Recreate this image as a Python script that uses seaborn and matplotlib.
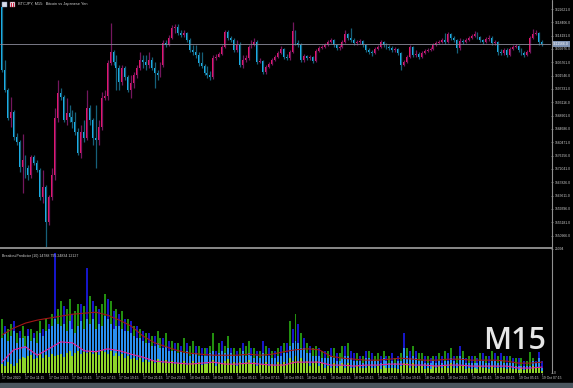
import numpy as np
import pandas as pd
import matplotlib
matplotlib.use("Agg")
import matplotlib.pyplot as plt
import matplotlib.transforms as mtransforms
import seaborn as sns
from matplotlib.patches import Rectangle
from matplotlib.lines import Line2D

# ---------------- data: prices in thousand JPY ----------------
open0_k = 1623.3
close_k = [
    1603.3, 1597.0, 1588.2, 1590.1, 1582.2, 1580.6, 1572.7, 1574.9, 1572.4, 1570.1,
    1575.8, 1573.9, 1571.7, 1563.2, 1566.3, 1555.3, 1563.2, 1570.1, 1588.2, 1596.1,
    1594.8, 1587.5, 1589.7, 1588.5, 1586.9, 1583.7, 1577.1, 1583.7, 1581.8, 1591.3,
    1587.5, 1581.8, 1581.2, 1585.3, 1594.5, 1595.1, 1605.6, 1609.0, 1605.9, 1604.0,
    1599.5, 1604.0, 1601.1, 1597.0, 1599.2, 1601.8, 1604.0, 1606.5, 1605.9, 1604.9,
    1606.5, 1604.0, 1602.4, 1601.8, 1604.9, 1611.9, 1611.2, 1613.5, 1616.6, 1616.9,
    1615.0, 1614.4, 1615.0, 1612.8, 1609.7, 1609.0, 1608.1, 1605.6,
    1604.6, 1602.4, 1601.8, 1601.1, 1607.1, 1607.5, 1608.4, 1610.6, 1615.4, 1613.5,
    1612.8, 1609.7, 1611.2, 1604.9, 1606.5, 1607.1, 1610.6, 1611.2, 1612.2, 1605.9,
    1606.2, 1602.7, 1604.3, 1605.2, 1606.5, 1607.5, 1608.7, 1610.0, 1607.5, 1607.1,
    1609.0, 1615.7, 1611.9, 1611.2, 1606.5, 1607.8, 1607.1, 1607.5, 1606.2, 1609.3,
    1610.3, 1610.6, 1611.2, 1612.2, 1612.8, 1611.2, 1610.3, 1610.6, 1612.2, 1614.7,
    1613.5, 1612.8, 1611.9, 1612.2, 1612.5, 1611.2, 1609.7, 1609.0, 1608.7, 1610.0,
    1610.6, 1612.2, 1611.2, 1610.6, 1610.3, 1609.7, 1610.0, 1608.7, 1604.9, 1605.9,
    1607.5, 1610.6, 1608.1, 1608.4, 1607.5, 1608.7, 1609.3, 1609.7, 1610.0, 1611.2,
    1611.9, 1612.2, 1612.8, 1612.2, 1614.7, 1613.5, 1612.8, 1610.3, 1612.5, 1612.2,
    1612.8, 1613.5, 1614.1, 1614.7, 1613.8, 1612.8, 1612.2, 1613.1, 1613.5, 1611.9,
    1612.2, 1609.0,
    1608.7, 1609.7, 1608.1, 1610.0, 1610.6, 1610.9, 1609.7, 1608.7, 1608.1, 1609.0,
    1613.5, 1614.7, 1615.0, 1612.2, 1611.6,
]
high_k = [
    1624.8, 1606.5, 1597.6, 1594.8, 1590.7, 1583.4, 1581.2, 1583.1, 1576.5, 1573.3,
    1576.5, 1576.5, 1574.9, 1572.4, 1571.7, 1567.0, 1563.8, 1572.4, 1591.3, 1600.2,
    1597.6, 1595.4, 1594.5, 1592.3, 1590.7, 1590.1, 1585.0, 1585.9, 1587.5, 1597.0,
    1592.3, 1588.2, 1592.3, 1587.5, 1596.4, 1597.0, 1606.5, 1618.2, 1609.7, 1608.1,
    1604.9, 1604.9, 1604.6, 1601.8, 1601.8, 1602.7, 1604.9, 1609.0, 1608.1, 1608.1,
    1609.0, 1607.5, 1605.9, 1603.3, 1605.9, 1612.8, 1612.8, 1614.4, 1617.6, 1617.9,
    1618.0, 1616.0, 1616.0, 1615.4, 1613.5, 1611.2, 1611.2, 1609.0,
    1609.0, 1605.2, 1604.6, 1603.0, 1608.1, 1608.4, 1609.0, 1611.2, 1616.0, 1616.0,
    1614.1, 1613.5, 1612.8, 1612.2, 1608.1, 1608.1, 1611.2, 1612.8, 1613.5, 1612.8,
    1607.1, 1606.5, 1604.9, 1605.9, 1607.1, 1608.1, 1609.3, 1610.9, 1610.3, 1608.4,
    1609.7, 1618.5, 1616.0, 1612.8, 1611.9, 1608.4, 1608.1, 1608.1, 1607.8, 1610.0,
    1610.9, 1611.2, 1611.9, 1612.8, 1613.5, 1613.1, 1611.6, 1611.2, 1612.8, 1616.0,
    1615.0, 1616.6, 1613.5, 1612.8, 1613.1, 1612.8, 1611.6, 1610.3, 1609.7, 1610.6,
    1611.2, 1612.8, 1612.5, 1611.9, 1611.2, 1610.9, 1610.6, 1610.3, 1609.0, 1606.5,
    1608.1, 1611.2, 1610.9, 1609.7, 1609.0, 1609.3, 1610.0, 1610.3, 1610.6, 1611.9,
    1612.5, 1612.8, 1613.5, 1615.0, 1615.4, 1615.0, 1614.1, 1613.1, 1613.5, 1613.1,
    1613.5, 1614.1, 1614.7, 1615.7, 1615.4, 1614.1, 1613.1, 1613.8, 1614.4, 1614.1,
    1612.8, 1612.5,
    1610.0, 1610.3, 1610.3, 1610.6, 1611.2, 1611.6, 1611.2, 1610.3, 1609.3, 1609.7,
    1614.1, 1616.3, 1616.0, 1615.4, 1612.8,
]
low_k = [
    1602.7, 1596.4, 1587.5, 1585.3, 1581.2, 1579.6, 1571.1, 1564.4, 1569.2, 1568.6,
    1569.2, 1573.3, 1571.1, 1562.2, 1561.3, 1547.4, 1554.3, 1562.2, 1568.6, 1586.9,
    1593.8, 1586.9, 1585.9, 1586.9, 1585.0, 1582.8, 1576.5, 1575.5, 1580.6, 1581.2,
    1585.9, 1579.6, 1572.4, 1579.6, 1584.4, 1593.8, 1593.8, 1604.9, 1604.9, 1597.0,
    1597.0, 1598.6, 1600.2, 1596.4, 1594.5, 1597.6, 1600.8, 1603.3, 1604.0, 1603.3,
    1604.0, 1603.3, 1597.6, 1600.2, 1601.1, 1604.3, 1610.6, 1610.9, 1613.2, 1615.0,
    1614.4, 1613.8, 1613.8, 1612.2, 1609.0, 1608.1, 1607.1, 1604.6,
    1604.0, 1601.8, 1600.8, 1600.2, 1600.5, 1606.5, 1607.5, 1608.1, 1610.3, 1612.8,
    1612.2, 1609.0, 1609.0, 1604.3, 1604.0, 1605.9, 1606.5, 1610.3, 1610.9, 1605.2,
    1605.6, 1602.1, 1602.1, 1604.0, 1604.9, 1606.2, 1607.1, 1608.4, 1606.8, 1606.5,
    1606.5, 1608.7, 1611.2, 1610.6, 1605.9, 1605.9, 1606.5, 1606.5, 1605.6, 1605.9,
    1609.0, 1610.0, 1610.3, 1610.9, 1611.9, 1610.6, 1609.7, 1609.7, 1610.3, 1611.9,
    1612.8, 1612.2, 1611.2, 1611.2, 1611.6, 1610.6, 1609.0, 1608.4, 1607.8, 1608.4,
    1609.7, 1610.3, 1610.6, 1610.0, 1609.7, 1609.0, 1609.0, 1608.1, 1603.3, 1604.6,
    1605.6, 1607.1, 1607.5, 1607.5, 1606.8, 1607.1, 1608.4, 1609.0, 1609.3, 1609.7,
    1610.9, 1611.6, 1611.9, 1611.6, 1611.9, 1612.8, 1612.2, 1608.7, 1609.7, 1611.6,
    1611.9, 1612.5, 1613.1, 1613.8, 1613.1, 1612.2, 1611.6, 1611.9, 1612.5, 1611.2,
    1611.2, 1608.1,
    1608.1, 1608.1, 1607.5, 1607.8, 1609.7, 1610.3, 1609.0, 1608.1, 1607.5, 1607.8,
    1608.7, 1613.1, 1614.4, 1611.2, 1610.9,
]
price_ticks = [1622621, 1618406, 1614191, 1609976, 1605761, 1601546, 1597331, 1593116,
               1588901, 1584686, 1580471, 1576256, 1572041, 1567826, 1563611, 1559396,
               1555181, 1550966]
current_price = 1611566
time_labels = ["17 Oct 2020", "17 Oct 11:15", "17 Oct 13:15", "17 Oct 15:15", "17 Oct 17:15",
               "17 Oct 19:15", "17 Oct 21:15", "17 Oct 23:15", "18 Oct 01:15", "18 Oct 03:15",
               "18 Oct 05:15", "18 Oct 07:15", "18 Oct 09:15", "18 Oct 11:15", "18 Oct 13:15",
               "18 Oct 15:15", "18 Oct 17:15", "18 Oct 19:15", "18 Oct 21:15", "18 Oct 23:15",
               "19 Oct 01:15", "19 Oct 03:15", "19 Oct 05:15", "19 Oct 07:15"]

# ---------------- indicator data (thousands) ----------------
navy_k = [
    0, 9.5, 0, 0, 10.5, 0, 8.5, 0, 0, 9.0,
    0, 8.0, 0, 0, 9.0, 0, 10.0, 0, 24.3, 0,
    0, 13.5, 0, 0, 12.0, 0, 0, 14.0, 0, 21.3,
    0, 14.5, 0, 13.0, 0, 0, 15.0, 0, 12.5, 0,
    12.0, 0, 11.0, 0, 10.5, 0, 9.5, 0, 8.5, 0,
    8.0, 0, 7.5, 0, 0, 7.0, 0, 6.5, 0, 6.0,
    0, 5.5, 0, 6.0, 0, 0, 5.5, 0, 5.0, 0,
    5.0, 0, 0, 4.5, 0, 6.5, 0, 0, 5.0, 0,
    4.5, 0, 6.0, 0, 0, 5.0, 0, 4.5, 0, 6.5,
    0, 5.0, 0, 4.5, 0, 5.5, 0, 6.0, 0, 9.0,
    0, 10.0, 0, 7.0, 0, 5.5, 0, 0, 5.0, 0,
    4.5, 0, 5.0, 0, 4.0, 0, 0, 5.5, 0, 4.5,
    4.0, 0, 3.5, 0, 4.5, 0, 4.0, 0, 0, 3.5,
    0, 3.5, 0, 4.0, 0, 3.5, 0, 8.0, 0, 4.5,
    0, 4.5, 0, 0, 3.5, 0, 3.0, 0, 3.5, 0,
    3.5, 0, 4.0, 0, 3.5, 0, 5.5, 0, 3.0, 0,
    3.5, 0, 3.0, 0, 4.0, 0, 3.5, 0, 4.0, 0,
    4.0, 0, 3.5, 0, 3.0, 0, 3.0, 0, 2.5, 0,
    0, 0, 2.5, 4.3, 2.5,
]
green_k = [
    11.0, 0, 9.0, 10.0, 0, 8.0, 0, 9.5, 7.5, 0,
    9.0, 0, 8.5, 10.5, 0, 11.0, 0, 12.0, 0, 13.0,
    14.5, 0, 13.0, 15.0, 0, 12.5, 14.0, 0, 13.5, 0,
    15.5, 0, 13.5, 0, 14.0, 16.0, 0, 14.5, 0, 13.0,
    0, 12.5, 0, 11.0, 0, 9.5, 0, 9.0, 0, 8.0,
    0, 7.5, 0, 8.5, 7.0, 0, 8.0, 0, 6.5, 0,
    6.0, 0, 7.0, 0, 5.5, 6.5, 0, 5.5, 0, 5.0,
    0, 5.5, 8.0, 0, 6.0, 0, 5.5, 7.5, 0, 5.0,
    0, 5.0, 0, 5.5, 6.5, 0, 5.0, 0, 4.5, 0,
    5.5, 0, 4.5, 0, 5.0, 0, 6.0, 0, 10.5, 0,
    12.0, 0, 8.0, 0, 6.0, 0, 5.0, 5.5, 0, 4.5,
    0, 4.5, 0, 5.0, 0, 4.0, 5.5, 0, 6.0, 0,
    0, 4.0, 0, 3.5, 0, 4.5, 0, 3.5, 4.0, 0,
    4.5, 0, 3.5, 0, 3.0, 0, 4.0, 0, 5.0, 0,
    5.5, 0, 4.0, 4.0, 0, 3.5, 0, 3.5, 0, 4.0,
    0, 4.5, 0, 5.0, 0, 3.5, 0, 4.5, 0, 3.5,
    0, 3.5, 0, 4.0, 0, 3.5, 0, 4.5, 0, 3.5,
    0, 3.5, 0, 3.5, 0, 3.0, 0, 3.0, 0, 2.5,
    4.3, 3.0, 0, 0, 0,
]
blue_k = [
    7.0, 8.0, 6.5, 7.5, 8.5, 6.0, 7.0, 7.0, 5.5, 7.5,
    6.5, 7.0, 6.0, 8.0, 7.5, 8.5, 9.0, 9.5, 11.0, 10.0,
    9.5, 10.0, 8.5, 10.5, 9.0, 8.0, 9.5, 10.5, 9.0, 11.0,
    10.0, 11.0, 9.0, 10.0, 9.5, 11.5, 11.0, 10.0, 9.0, 9.5,
    9.5, 9.0, 8.5, 8.5, 8.0, 7.5, 7.0, 7.0, 6.5, 6.0,
    6.0, 5.5, 5.5, 6.0, 5.0, 5.0, 5.5, 4.5, 4.5, 4.5,
    4.0, 4.5, 4.0, 4.5, 3.5, 4.0, 4.0, 3.5, 3.5, 3.5,
    3.5, 4.0, 4.5, 3.5, 4.0, 4.5, 4.0, 5.0, 4.0, 3.5,
    3.5, 3.5, 4.5, 3.5, 4.0, 3.5, 3.0, 3.5, 3.0, 4.0,
    3.5, 3.5, 3.0, 3.0, 3.5, 3.5, 4.0, 4.0, 5.5, 6.0,
    6.5, 6.0, 5.0, 5.0, 4.0, 4.0, 3.5, 3.5, 3.5, 3.0,
    3.0, 3.0, 3.5, 3.0, 2.5, 2.5, 3.0, 3.5, 3.5, 3.0,
    2.5, 2.5, 2.5, 2.0, 3.0, 3.0, 2.5, 2.5, 2.5, 2.0,
    3.0, 2.5, 2.0, 2.5, 2.0, 2.5, 2.5, 5.0, 3.5, 3.0,
    3.5, 3.0, 2.5, 2.5, 2.0, 2.0, 2.0, 2.5, 2.0, 2.5,
    2.0, 2.5, 2.5, 3.0, 2.5, 2.0, 3.5, 3.0, 2.0, 2.0,
    2.0, 2.0, 2.0, 2.5, 2.5, 2.0, 2.0, 2.5, 2.5, 2.0,
    2.5, 2.0, 2.0, 2.0, 2.0, 1.5, 1.5, 1.5, 1.5, 1.5,
    1.5, 2.5, 2.0, 3.0, 1.0,
]
lime_k = [
    1.8, 1.5, 2.2, 1.8, 1.5, 2.0, 2.8, 3.2, 3.0, 3.4,
    3.6, 2.8, 3.0, 3.8, 3.0, 3.6, 3.2, 3.8, 3.4, 3.6,
    3.8, 3.2, 4.0, 4.4, 3.5, 4.0, 4.5, 3.8, 4.2, 4.0,
    4.4, 3.8, 4.2, 3.6, 4.5, 4.2, 3.8, 4.4, 3.5, 4.0,
    3.4, 3.8, 3.0, 3.5, 2.8, 3.0, 2.6, 3.0, 2.2, 2.6,
    2.2, 2.6, 2.0, 2.8, 2.5, 2.0, 2.6, 2.0, 2.4, 1.8,
    2.0, 1.8, 2.4, 1.6, 2.0, 2.4, 1.8, 2.2, 1.6, 1.8,
    1.8, 2.2, 2.6, 1.4, 2.2, 1.8, 2.4, 2.8, 1.8, 2.2,
    1.4, 2.2, 1.8, 2.2, 2.6, 1.8, 2.2, 1.4, 1.8, 1.8,
    2.2, 1.4, 1.8, 1.4, 2.2, 1.8, 2.2, 1.8, 3.0, 2.5,
    3.5, 2.5, 3.0, 2.0, 2.5, 1.5, 2.0, 2.5, 1.5, 2.0,
    1.0, 1.5, 1.0, 2.0, 1.0, 1.5, 2.0, 1.0, 2.0, 1.0,
    1.0, 1.5, 1.0, 1.0, 1.0, 1.5, 1.0, 1.0, 1.5, 0.8,
    1.5, 1.0, 1.0, 1.0, 1.0, 0.8, 1.5, 2.0, 2.0, 1.0,
    2.0, 1.0, 1.5, 1.5, 0.8, 1.0, 0.8, 1.5, 1.0, 1.5,
    1.0, 1.5, 1.0, 2.0, 1.0, 1.0, 1.5, 1.5, 0.8, 1.0,
    0.8, 1.0, 0.8, 1.5, 1.0, 1.0, 0.8, 1.5, 1.0, 1.0,
    1.0, 1.0, 0.8, 1.0, 0.8, 0.8, 0.6, 1.0, 0.6, 0.8,
    0.8, 1.5, 1.0, 1.0, 0.5,
]
# smoothed lines, sampled every 4th bar
line_bar = [0, 4, 8, 12, 16, 20, 24, 28, 32, 36, 40, 44, 48, 52, 56, 60, 64, 68, 72, 76,
            80, 84, 88, 92, 96, 100, 104, 108, 112, 116, 120, 124, 128, 132, 136, 140,
            144, 148, 152, 156, 160, 164, 168, 172, 176, 180, 184]
red_k = [7.7, 9.1, 10.1, 10.7, 11.1, 11.5, 11.9, 12.1, 12.3, 11.7, 10.7, 9.5, 7.5, 6.1,
         5.3, 4.5, 4.0, 3.8, 3.6, 3.6, 3.6, 3.8, 3.6, 3.8, 4.3, 4.7, 4.9, 4.7, 3.4, 3.0,
         2.8, 2.6, 2.6, 2.8, 3.0, 2.8, 2.6, 2.6, 2.8, 2.8, 2.6, 2.6, 2.6, 2.4, 2.0, 2.0, 2.2]
magenta_k = [2.2, 4.7, 5.3, 3.6, 4.9, 6.3, 6.1, 4.5, 4.3, 4.9, 4.5, 3.8, 3.2, 2.4, 2.2,
             2.0, 1.8, 2.0, 2.2, 1.8, 1.8, 2.0, 1.8, 1.6, 1.6, 2.2, 2.2, 2.2, 1.6, 1.6,
             1.4, 1.6, 1.6, 1.8, 1.8, 1.6, 1.6, 1.4, 1.6, 1.6, 1.4, 1.4, 1.4, 1.4, 1.0,
             1.0, 1.2]
ind_max = 25094
title = "BTCJPY, M15:  Bitcoin vs Japanese Yen"
ind_title = "BreakoutPredictor (10) 14788.795 24834 12127"

# ---------------- style ----------------
sns.set_theme(style="dark", rc={"axes.facecolor": "black", "figure.facecolor": "black"})
plt.rcParams['font.family'] = ['Liberation Sans', 'DejaVu Sans']

W, H = 573, 388
fig = plt.figure(figsize=(W / 100, H / 100), dpi=100, facecolor='black')

def fx(px):
    return px / W

def fy(py):
    return 1 - py / H

ax = fig.add_axes([0, fy(247), fx(551), fy(0) - fy(247)])
ax2 = fig.add_axes([0, fy(373), fx(551), fy(249) - fy(373)])
for a in (ax, ax2):
    a.set_facecolor('black')
    for s in a.spines.values():
        s.set_visible(False)
    a.grid(False)

SMALL = 2.4
LBL = '#d0d0d0'

# ---------------- candles ----------------
df = pd.DataFrame({"close": np.array(close_k) * 1000,
                   "high": np.array(high_k) * 1000,
                   "low": np.array(low_k) * 1000})
df["open"] = np.concatenate([[open0_k * 1000], df["close"].values[:-1]])
df["x"] = np.arange(len(df))
bull = df["close"] >= df["open"]
body_col = np.where(bull, '#f2186f', '#1cb8f4')
wick_col = np.where(bull, '#74175e', '#16607a')
ax.vlines(df["x"], df["low"], df["high"], colors=wick_col, lw=0.9)
bottom = np.minimum(df["open"], df["close"])
height = np.maximum(np.abs(df["close"] - df["open"]), 330)
ax.bar(df["x"], height, bottom=bottom, width=0.66, color=body_col, linewidth=0)

step = 2.935
xl = (-2 / step, (551 - 2) / step)
ax.set_xlim(*xl)
ax.set_ylim(1547366, 1625467)
ax.set_xticks([])
ax.yaxis.tick_right()
ax.set_yticks(price_ticks)
ax.set_yticklabels([f"{v:.1f}" for v in price_ticks])
ax.tick_params(axis='y', colors='#9a9a9a', labelcolor=LBL, labelsize=SMALL,
               length=1.6, width=0.5, pad=0.8, direction='out', right=True, left=False)

ax.axhline(current_price, color='#8c8c9c', lw=0.6)
trans = mtransforms.blended_transform_factory(ax.transAxes, ax.transData)
ax.text(1.004, current_price, f"{current_price:.1f}", transform=trans, ha='left', va='center',
        fontsize=SMALL, color='white',
        bbox=dict(boxstyle='square,pad=0.3', fc='#7f93b3', ec='none'))

# ---------------- indicator pane ----------------
ind = pd.DataFrame({"bar": np.arange(len(navy_k)),
                    "navy": np.array(navy_k) * 1000, "green": np.array(green_k) * 1000,
                    "blue": np.array(blue_k) * 1000, "lime": np.array(lime_k) * 1000})
bw = 0.68
ax2.bar(ind["bar"], ind["navy"], width=bw, color='#1616c8', linewidth=0)
ax2.bar(ind["bar"], ind["green"], width=bw, color='#23900f', linewidth=0)
ax2.bar(ind["bar"], ind["blue"], width=bw, color='#2a8ff0', linewidth=0)
ax2.bar(ind["bar"], ind["lime"], width=bw, color='#8ed62a', linewidth=0)

lines = pd.DataFrame({"bar": line_bar, "red": np.array(red_k) * 1000,
                      "magenta": np.array(magenta_k) * 1000})
sns.lineplot(data=lines, x="bar", y="red", ax=ax2, color='#a31616', lw=0.8)
sns.lineplot(data=lines, x="bar", y="magenta", ax=ax2, color='#e8209a', lw=0.8)
ax2.set_xlabel('')
ax2.set_ylabel('')

ax2.set_xlim(*xl)
ax2.set_ylim(0, ind_max)
ax2.yaxis.tick_right()
ax2.set_yticks([0, ind_max])
ax2.set_yticklabels(["0", str(ind_max)])
ax2.tick_params(axis='y', colors='#9a9a9a', labelcolor=LBL, labelsize=SMALL,
                length=1.6, width=0.5, pad=0.8, right=True, left=False)
ax2.set_xticks(np.arange(0, len(df), 8))
ax2.set_xticklabels(time_labels)
ax2.tick_params(axis='x', colors='#9a9a9a', labelcolor=LBL, labelsize=SMALL,
                length=1.5, width=0.5, pad=1.0, bottom=True)
for t in ax2.get_xticklabels():
    t.set_ha('left')

# ---------------- frame decorations ----------------
fig.add_artist(Line2D([0, fx(552)], [fy(248), fy(248)], color='#a0a0a0', lw=1.2))
fig.add_artist(Line2D([fx(551.5), fx(551.5)], [fy(0), fy(373)], color='#909090', lw=0.8))
fig.add_artist(Rectangle((0, 0), 1, 5 / H, transform=fig.transFigure, color='#4b565e', zorder=0))

fig.add_artist(Rectangle((fx(2), fy(7)), fx(5), 5 / H, transform=fig.transFigure,
                         fc='#d8dce8', ec='#8090b0', lw=0.3))
fig.add_artist(Rectangle((fx(10), fy(7)), fx(5), 5 / H, transform=fig.transFigure,
                         fc='#e8e8f0', ec='#a05060', lw=0.3))
fig.add_artist(Rectangle((fx(11), fy(6.5)), fx(1), 3.5 / H, transform=fig.transFigure,
                         fc='#d02040', ec='none'))
fig.add_artist(Rectangle((fx(13), fy(6.5)), fx(1), 3.5 / H, transform=fig.transFigure,
                         fc='#d02040', ec='none'))
fig.text(fx(18), fy(4.5), title, fontsize=2.8, color=LBL, va='center', ha='left')
fig.text(fx(2), fy(255.5), ind_title, fontsize=2.6, color=LBL, va='center', ha='left')
fig.text(fx(515), fy(341), "M15", fontsize=22, family=['Open Sans', 'DejaVu Sans'],
         weight='semibold', color='#e6e6e6', ha='center', va='center')

fig.savefig("out.png", dpi=100, facecolor='black')
